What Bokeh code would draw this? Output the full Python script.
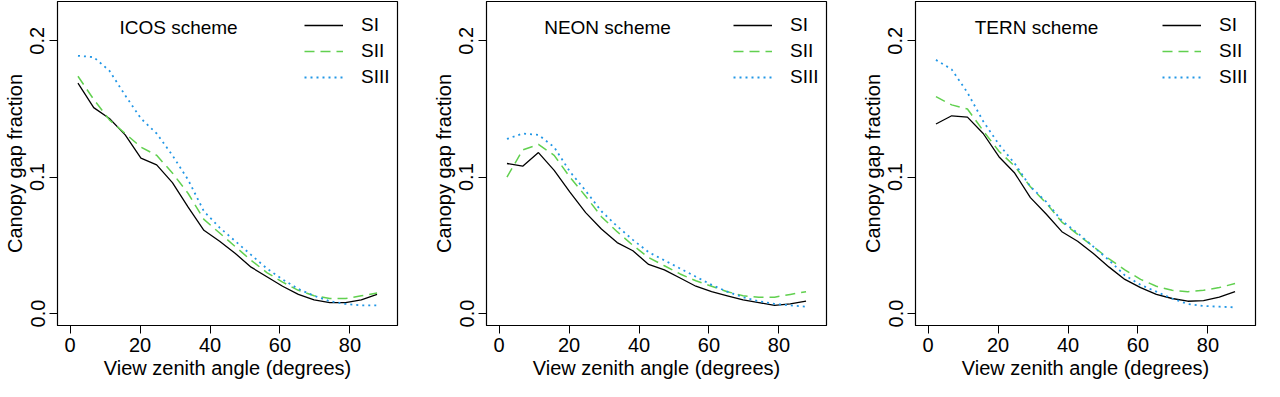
from bokeh.plotting import figure
from bokeh.layouts import row
from bokeh.models import Range1d, FixedTicker, Legend, LegendItem, Label, NumeralTickFormatter
from bokeh.embed import file_html
from bokeh.resources import INLINE

# ---- data ----
zenith = [2.25, 6.75, 11.25, 15.75, 20.25, 24.75, 29.25, 33.75, 38.25, 42.75,
          47.25, 51.75, 56.25, 60.75, 65.25, 69.75, 74.25, 78.75, 83.25, 87.75]

icos_si = [0.169, 0.151, 0.143, 0.131, 0.114, 0.109, 0.096, 0.078, 0.061, 0.053,
           0.044, 0.034, 0.027, 0.020, 0.014, 0.010, 0.008, 0.008, 0.010, 0.014]
icos_sii = [0.174, 0.157, 0.142, 0.132, 0.122, 0.116, 0.103, 0.088, 0.069, 0.059,
            0.049, 0.039, 0.030, 0.023, 0.017, 0.013, 0.011, 0.011, 0.013, 0.015]
icos_siii = [0.189, 0.188, 0.178, 0.160, 0.143, 0.132, 0.116, 0.098, 0.075, 0.063,
             0.053, 0.043, 0.033, 0.025, 0.018, 0.013, 0.009, 0.007, 0.006, 0.006]

neon_si = [0.110, 0.108, 0.118, 0.105, 0.089, 0.074, 0.062, 0.052, 0.046, 0.036,
           0.032, 0.026, 0.020, 0.016, 0.013, 0.010, 0.008, 0.006, 0.007, 0.009]
neon_sii = [0.100, 0.120, 0.124, 0.116, 0.100, 0.086, 0.071, 0.060, 0.050, 0.041,
            0.035, 0.029, 0.024, 0.020, 0.016, 0.013, 0.012, 0.012, 0.014, 0.016]
neon_siii = [0.128, 0.132, 0.131, 0.122, 0.104, 0.090, 0.075, 0.064, 0.054, 0.045,
             0.039, 0.033, 0.027, 0.021, 0.016, 0.012, 0.009, 0.007, 0.006, 0.005]

tern_si = [0.139, 0.145, 0.144, 0.132, 0.115, 0.103, 0.085, 0.073, 0.060, 0.053,
           0.044, 0.034, 0.025, 0.019, 0.014, 0.011, 0.009, 0.0095, 0.012, 0.016]
tern_sii = [0.159, 0.153, 0.150, 0.134, 0.119, 0.108, 0.093, 0.081, 0.067, 0.058,
            0.049, 0.040, 0.032, 0.025, 0.020, 0.017, 0.016, 0.017, 0.019, 0.022]
tern_siii = [0.186, 0.179, 0.162, 0.141, 0.124, 0.110, 0.093, 0.082, 0.068, 0.059,
             0.049, 0.039, 0.028, 0.021, 0.016, 0.011, 0.007, 0.0055, 0.005, 0.0045]

scheme_titles = ["ICOS scheme", "NEON scheme", "TERN scheme"]
series_labels = ["SI", "SII", "SIII"]
x_ticks = [0, 20, 40, 60, 80]
y_ticks = [0.0, 0.1, 0.2]
x_label = "View zenith angle (degrees)"
y_label = "Canopy gap fraction"

panels = [
    (icos_si, icos_sii, icos_siii),
    (neon_si, neon_sii, neon_siii),
    (tern_si, tern_sii, tern_siii),
]

# ---- styles ----
FONT = "Liberation Sans"
FS_AXIS = "20px"
FS_IN = "19px"
colors = ["black", "#61D04F", "#2297E6"]
dashes = ["solid", "10 6", "2 4"]
widths = [1.3, 1.5, 1.8]

FRAME_W = 340
LEFT = 57
GAP = 89
HEIGHT = 381


def make_panel(idx, title, series):
    right = (GAP - LEFT) if idx < 2 else 1264 - 2 * GAP - 3 * FRAME_W - LEFT
    p = figure(width=LEFT + FRAME_W + right, height=HEIGHT,
               output_backend="svg", toolbar_location=None,
               x_range=Range1d(-3.6, 93.6), y_range=Range1d(-0.0088, 0.2288),
               min_border_left=LEFT, min_border_right=right,
               min_border_top=1, min_border_bottom=0)
    p.grid.visible = False
    p.outline_line_color = "black"
    p.outline_line_width = 1.2
    p.outline_line_alpha = 1.0
    p.background_fill_color = "white"
    p.border_fill_color = "white"

    for ax in (p.xaxis[0], p.yaxis[0]):
        ax.major_tick_out = 8
        ax.major_tick_in = 0
        ax.minor_tick_line_color = None
        ax.major_tick_line_color = "black"
        ax.axis_line_color = "black"
        ax.major_label_text_font = FONT
        ax.major_label_text_font_size = FS_AXIS
        ax.major_label_text_color = "black"
        ax.axis_label_text_font = FONT
        ax.axis_label_text_font_size = FS_AXIS
        ax.axis_label_text_font_style = "normal"
        ax.axis_label_text_color = "black"

    p.xaxis.major_label_standoff = 4
    p.xaxis.axis_label_standoff = 2
    p.yaxis.major_label_standoff = 5
    p.yaxis.axis_label_standoff = 2

    p.xaxis.ticker = FixedTicker(ticks=x_ticks)
    p.yaxis.ticker = FixedTicker(ticks=y_ticks)
    p.yaxis.formatter = NumeralTickFormatter(format="0.0")
    p.yaxis.major_label_orientation = "vertical"
    p.xaxis.axis_label = x_label
    p.yaxis.axis_label = y_label

    items = []
    for k, ys in enumerate(series):
        r = p.line(zenith, ys, line_color=colors[k], line_dash=dashes[k],
                   line_width=widths[k])
        items.append(LegendItem(label=series_labels[k], renderers=[r]))

    legend = Legend(items=items, location=(247, 237),
                    glyph_width=39, glyph_height=20, label_height=20,
                    label_standoff=18, spacing=4, padding=0, margin=0,
                    label_text_font=FONT, label_text_font_size=FS_IN,
                    label_text_color="black",
                    background_fill_alpha=0, border_line_alpha=0)
    p.add_layout(legend)

    p.add_layout(Label(x=31, y=0.21, text=title, text_align="center",
                       text_baseline="middle", text_font=FONT,
                       text_font_size=FS_IN, text_color="black"))
    return p


figs = [make_panel(i, scheme_titles[i], panels[i]) for i in range(3)]
layout = row(*figs, spacing=0)

open("out.html", "w").write(file_html(layout, INLINE))
